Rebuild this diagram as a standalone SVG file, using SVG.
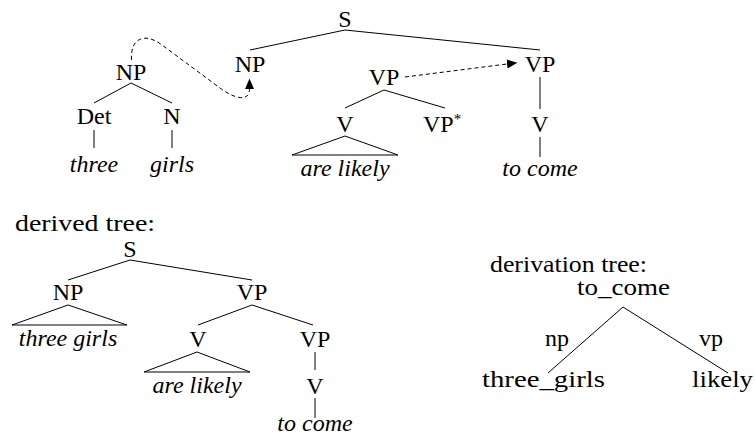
<svg xmlns="http://www.w3.org/2000/svg" width="755" height="435" viewBox="0 0 755 435" font-family="'Liberation Serif', 'DejaVu Serif', 'Times New Roman', serif">
  <style>
    text { font-family: "Liberation Serif", "DejaVu Serif", "Times New Roman", serif; font-size: 24px; fill: #000; }
    .n { text-anchor: middle; }
    .it { font-style: italic; }
    .e { stroke: #000; stroke-width: 1; fill: none; }
    .d { stroke: #000; stroke-width: 1; fill: none; stroke-dasharray: 4 3; }
  </style>
  <defs>
    <marker id="tri" markerUnits="userSpaceOnUse" markerWidth="11" markerHeight="10" refX="0" refY="5" orient="auto">
      <path d="M0,0.5 L10.5,5 L0,9.5 z" fill="#000"/>
    </marker>
  </defs>

  <!-- tree edges and adjunction / substitution arrows -->
  <g id="connectors">
    <!-- initial tree for "three girls" -->
    <line class="e" x1="131" y1="83" x2="94" y2="103"/>
    <line class="e" x1="131" y1="83" x2="172" y2="103"/>
    <line class="e" x1="94" y1="130" x2="94" y2="148"/>
    <line class="e" x1="172" y1="130" x2="172" y2="148"/>
    <!-- elementary tree for "to come" -->
    <line class="e" x1="345" y1="30" x2="250" y2="50"/>
    <line class="e" x1="345" y1="30" x2="540" y2="50"/>
    <line class="e" x1="540" y1="77" x2="540" y2="109"/>
    <line class="e" x1="540" y1="137" x2="540" y2="157"/>
    <!-- auxiliary tree for "are likely" -->
    <line class="e" x1="384" y1="90" x2="345" y2="108"/>
    <line class="e" x1="384" y1="90" x2="445" y2="108"/>
    <polygon class="e" points="345,136 292,155 398,155"/>
    <!-- substitution and adjunction -->
    <path class="d" d="M131.5,60 C130,38 145,32 162,45 L220,88 C233,98 249.5,103 249.5,89" marker-end="url(#tri)"/>
    <line class="d" x1="405" y1="77" x2="507" y2="64" marker-end="url(#tri)"/>

    <!-- derived tree -->
    <line class="e" x1="130" y1="260" x2="68" y2="280"/>
    <line class="e" x1="130" y1="260" x2="252" y2="280"/>
    <polygon class="e" points="68,305 12,325 127,325"/>
    <line class="e" x1="252" y1="305" x2="198" y2="325"/>
    <line class="e" x1="252" y1="305" x2="313" y2="325"/>
    <polygon class="e" points="197,352 144,372 250,372"/>
    <line class="e" x1="315" y1="352" x2="315" y2="370"/>
    <line class="e" x1="315" y1="398" x2="315" y2="418"/>

    <!-- derivation tree -->
    <line class="e" x1="623" y1="307" x2="548" y2="373"/>
    <line class="e" x1="623" y1="307" x2="728" y2="373"/>
  </g>

  <!-- initial tree: three girls -->
  <g id="np-three-girls">
    <text class="n" x="131" y="80">NP</text>
    <text class="n" x="94" y="124">Det</text>
    <text class="n" x="172" y="124">N</text>
    <text class="n it" x="94" y="172">three</text>
    <text class="n it" x="172" y="172">girls</text>
  </g>

  <!-- elementary tree: to come -->
  <g id="s-to-come">
    <text class="n" x="345" y="27">S</text>
    <text class="n" x="250" y="72">NP</text>
    <text class="n" x="540" y="72">VP</text>
    <text class="n" x="540" y="132">V</text>
    <text class="n it" x="540" y="176">to come</text>
  </g>

  <!-- auxiliary tree: are likely -->
  <g id="vp-are-likely">
    <text class="n" x="384" y="85">VP</text>
    <text class="n" x="345" y="132">V</text>
    <text x="423" y="132">VP<tspan font-size="15" dy="-8">*</tspan></text>
    <text class="n it" x="345" y="176">are likely</text>
  </g>

  <!-- derived tree -->
  <g id="derived-tree">
    <text x="15" y="231" textLength="140" lengthAdjust="spacingAndGlyphs">derived tree:</text>
    <text class="n" x="130" y="257">S</text>
    <text class="n" x="68" y="300">NP</text>
    <text class="n it" x="68" y="346">three girls</text>
    <text class="n" x="252" y="300">VP</text>
    <text class="n" x="198" y="347">V</text>
    <text class="n it" x="197" y="393">are likely</text>
    <text class="n" x="315" y="347">VP</text>
    <text class="n" x="315" y="394">V</text>
    <text class="n it" x="315" y="431">to come</text>
  </g>

  <!-- derivation tree -->
  <g id="derivation-tree">
    <text x="490" y="272" textLength="157" lengthAdjust="spacingAndGlyphs">derivation tree:</text>
    <text x="577" y="295" textLength="93" lengthAdjust="spacingAndGlyphs">to_come</text>
    <text class="n" x="557" y="346">np</text>
    <text class="n" x="711" y="346">vp</text>
    <text x="482" y="387" textLength="123" lengthAdjust="spacingAndGlyphs">three_girls</text>
    <text x="692" y="387" textLength="61" lengthAdjust="spacingAndGlyphs">likely</text>
  </g>
</svg>
